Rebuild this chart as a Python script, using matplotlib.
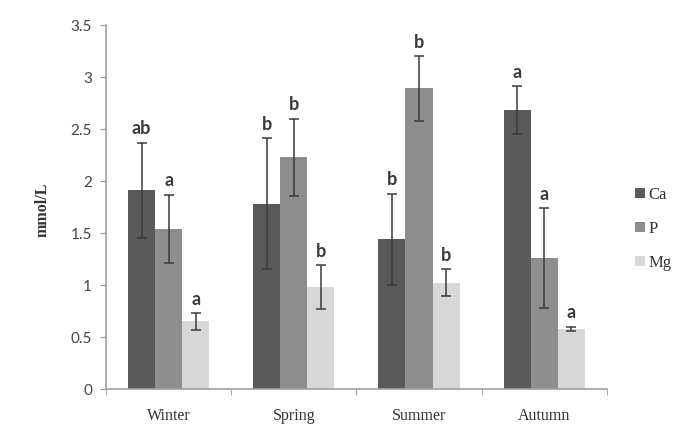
import matplotlib
matplotlib.use("Agg")
import matplotlib.pyplot as plt
import numpy as np

seasons = ["Winter", "Spring", "Summer", "Autumn"]
series = ["Ca", "P", "Mg"]
ca = [1.91, 1.78, 1.44, 2.68]
p = [1.54, 2.23, 2.89, 1.26]
mg = [0.65, 0.98, 1.02, 0.58]
ca_err = [0.46, 0.63, 0.44, 0.23]
p_err = [0.33, 0.37, 0.31, 0.48]
mg_err = [0.08, 0.21, 0.13, 0.02]
ca_lbl = ["ab", "b", "b", "a"]
p_lbl = ["a", "b", "b", "a"]
mg_lbl = ["a", "b", "b", "a"]

values = [ca, p, mg]
errs = [ca_err, p_err, mg_err]
lbls = [ca_lbl, p_lbl, mg_lbl]
colors = ["#5a5a5a", "#8e8e8e", "#d8d8d8"]

fig = plt.figure(figsize=(6.81, 4.32), dpi=100)
ax = fig.add_axes([0.1557, 0.0995, 0.891 - 0.1557, 0.942 - 0.0995])

x = np.arange(len(seasons))
w = 0.216
for i, (v, e, l, c, name) in enumerate(zip(values, errs, lbls, colors, series)):
    pos = x + (i - 1) * w
    ax.bar(pos, v, width=w, color=c, label=name, zorder=2)
    ax.errorbar(pos, v, yerr=e, fmt="none", ecolor="#3a3a3a", elinewidth=1.1,
                capsize=3.5, capthick=1.1, zorder=3)
    for xi, vi, ei, li in zip(pos, v, e, l):
        ax.annotate(li, (xi, vi + ei), xytext=(0, 4), textcoords="offset points",
                    ha="center", va="bottom", fontsize=13, fontweight="bold",
                    family="Lato", color="#3a3a3a")

ax.set_xlim(-0.5, 3.5)
ax.set_ylim(0, 3.5)
ax.set_yticks([0, 0.5, 1, 1.5, 2, 2.5, 3, 3.5])
ax.set_yticklabels(["0", "0.5", "1", "1.5", "2", "2.5", "3", "3.5"],
                   family="Lato", fontsize=11, color="#444444")
ax.set_xticks(x)
ax.set_xticklabels(seasons, family="Liberation Serif", fontsize=11.5, color="#333333")
ax.set_xticks([-0.5, 0.5, 1.5, 2.5, 3.5], minor=True)
ax.tick_params(axis="x", which="major", length=0, pad=14)
ax.tick_params(axis="x", which="minor", length=4, color="#999999", direction="out")
ax.tick_params(axis="y", length=4, color="#999999", pad=6)

for s in ["top", "right"]:
    ax.spines[s].set_visible(False)
for s in ["left", "bottom"]:
    ax.spines[s].set_color("#a0a0a0")
    ax.spines[s].set_linewidth(1.2)

fig.text(0.063, 0.514, "mmol/L", rotation=90, ha="center", va="center",
         family="Liberation Serif", fontweight="bold", fontsize=11.5, color="#333333")

leg = ax.legend(loc="center left", bbox_to_anchor=(0.933, 0.47), bbox_transform=fig.transFigure,
                frameon=False, handlelength=0.55, handleheight=0.55, handletextpad=0.25,
                labelspacing=1.1, borderpad=0, borderaxespad=0,
                prop={"family": "Liberation Serif", "size": 12})
for t in leg.get_texts():
    t.set_color("#333333")

fig.savefig("out.png", dpi=100, facecolor="white")
